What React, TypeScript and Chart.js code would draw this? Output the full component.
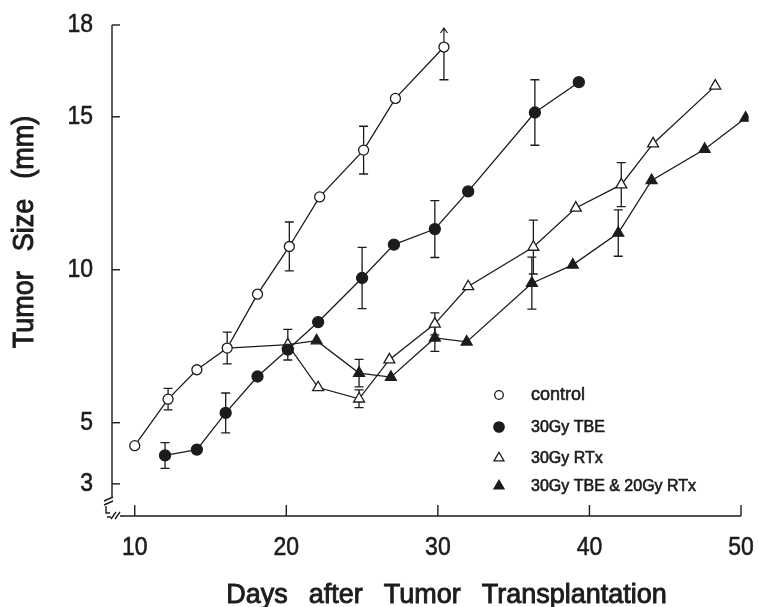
import React, { useEffect, useRef } from 'react';
import { Chart, registerables } from 'chart.js';

Chart.register(...registerables);

// ---------- data ----------
const xTicks = [10, 20, 30, 40, 50];
const yTicks = [3, 5, 10, 15, 18];

const controlDays = [10, 12.2, 14.1, 16.1, 18.1, 20.2, 22.2, 25.1, 27.2, 30.4];
const controlSize = [4.25, 5.77, 6.73, 7.44, 9.2, 10.76, 12.38, 13.91, 15.6, 17.28];
const controlErr = [0, 0.35, 0, 0.52, 0, 0.8, 0, 0.78, 0, 1.07];

const tbeDays = [12.0, 14.1, 16.0, 18.1, 20.1, 22.1, 25.0, 27.1, 29.8, 32.0, 36.4, 39.3];
const tbeSize = [3.93, 4.12, 5.32, 6.51, 7.39, 8.29, 9.73, 10.82, 11.33, 12.56, 15.14, 16.13];
const tbeErr = [0.42, 0, 0.65, 0, 0, 0, 1.0, 0, 0.93, 0, 1.07, 0];

const rtxDays = [16.1, 20.1, 22.1, 24.8, 26.8, 29.8, 32.0, 36.3, 39.1, 42.1, 44.2, 48.3];
const rtxSize = [7.44, 7.55, 6.15, 5.78, 7.06, 8.23, 9.45, 10.74, 12.02, 12.78, 14.12, 16.01];
const rtxErr = [0, 0.5, 0, 0.29, 0, 0.36, 0, 0.88, 0, 0.72, 0, 0];

const comboDays = [20.1, 22.0, 24.8, 26.9, 29.8, 31.9, 36.2, 38.9, 41.9, 44.1, 47.6, 50.3];
const comboSize = [7.55, 7.68, 6.62, 6.49, 7.77, 7.64, 9.56, 10.16, 11.2, 12.92, 13.94, 14.96];
const comboErr = [0, 0, 0.45, 0, 0.44, 0, 0.85, 0, 0.76, 0, 0, 0];

const seriesLabels = ['control', '30Gy TBE', '30Gy RTx', '30Gy TBE & 20Gy RTx'];
const xTitleWords = ['Days', 'after', 'Tumor', 'Transplantation'];
const yTitleWords = ['Tumor', 'Size', '(mm)'];

// ---------- style ----------
const INK = '#1c1c1c';
const FONT = '"Liberation Sans", Arial, sans-serif';

type Spec = {
  label: string;
  days: number[];
  vals: number[];
  err: number[];
  style: 'circle' | 'triangle';
  filled: boolean;
  radius: number;
  hideFirst: boolean;
};

const specs: Spec[] = [
  { label: seriesLabels[0], days: controlDays, vals: controlSize, err: controlErr, style: 'circle', filled: false, radius: 5, hideFirst: false },
  { label: seriesLabels[1], days: tbeDays, vals: tbeSize, err: tbeErr, style: 'circle', filled: true, radius: 5.5, hideFirst: false },
  { label: seriesLabels[2], days: rtxDays, vals: rtxSize, err: rtxErr, style: 'triangle', filled: false, radius: 6.3, hideFirst: true },
  { label: seriesLabels[3], days: comboDays, vals: comboSize, err: comboErr, style: 'triangle', filled: true, radius: 6.3, hideFirst: true },
];

function drawMarker(ctx: CanvasRenderingContext2D, style: string, filled: boolean, x: number, y: number, r: number) {
  ctx.beginPath();
  if (style === 'circle') {
    ctx.arc(x, y, r, 0, Math.PI * 2);
  } else {
    for (let k = 0; k < 3; k++) {
      const a = (k * 2 * Math.PI) / 3;
      const px = x + Math.sin(a) * r;
      const py = y - Math.cos(a) * r;
      if (k === 0) ctx.moveTo(px, py);
      else ctx.lineTo(px, py);
    }
    ctx.closePath();
  }
  ctx.fillStyle = filled ? INK : '#ffffff';
  ctx.fill();
  ctx.lineWidth = 1.3;
  ctx.strokeStyle = INK;
  ctx.stroke();
}

function drawText(
  ctx: CanvasRenderingContext2D,
  text: string,
  x: number,
  y: number,
  font: string,
  align: CanvasTextAlign,
  baseline: CanvasTextBaseline,
  sy: number,
  stroke: number
) {
  ctx.save();
  ctx.translate(x, y);
  ctx.scale(1, sy);
  ctx.font = font;
  ctx.textAlign = align;
  ctx.textBaseline = baseline;
  ctx.fillStyle = INK;
  ctx.fillText(text, 0, 0);
  if (stroke > 0) {
    ctx.lineWidth = stroke;
    ctx.strokeStyle = INK;
    ctx.strokeText(text, 0, 0);
  }
  ctx.restore();
}

const decorPlugin = {
  id: 'decor',
  beforeDatasetsDraw(chart: any) {
    const ctx: CanvasRenderingContext2D = chart.ctx;
    const xs = chart.scales.x;
    const ys = chart.scales.y;
    ctx.save();
    ctx.strokeStyle = INK;
    ctx.lineWidth = 1.3;
    specs.forEach((s, si) => {
      s.days.forEach((d, i) => {
        const e = s.err[i];
        if (!e) return;
        const px = xs.getPixelForValue(d);
        const isArrow = si === 0 && i === s.days.length - 1;
        const top = ys.getPixelForValue(isArrow ? s.vals[i] : s.vals[i] + e);
        const bot = ys.getPixelForValue(s.vals[i] - e);
        ctx.beginPath();
        ctx.moveTo(px, top);
        ctx.lineTo(px, bot);
        if (!isArrow) {
          ctx.moveTo(px - 4.5, top);
          ctx.lineTo(px + 4.5, top);
        }
        ctx.moveTo(px - 4.5, bot);
        ctx.lineTo(px + 4.5, bot);
        ctx.stroke();
      });
    });
    ctx.restore();
  },
  afterDraw(chart: any) {
    const ctx: CanvasRenderingContext2D = chart.ctx;
    const xs = chart.scales.x;
    const ys = chart.scales.y;
    const L = chart.chartArea.left;
    const B = chart.chartArea.bottom;
    ctx.save();
    ctx.strokeStyle = INK;
    ctx.lineWidth = 1.4;
    ctx.lineCap = 'butt';

    // y axis with break
    const yTop = ys.getPixelForValue(yTicks[yTicks.length - 1]);
    ctx.beginPath();
    ctx.moveTo(L, yTop);
    ctx.lineTo(L, B - 19);
    // break slashes on y
    ctx.moveTo(L - 8, B - 15);
    ctx.lineTo(L + 1, B - 19);
    ctx.moveTo(L - 8, B - 11);
    ctx.lineTo(L + 1, B - 15);
    // small foot below break
    ctx.moveTo(L - 6, B - 10);
    ctx.lineTo(L - 6, B - 3);
    ctx.lineTo(L - 2, B - 3);
    // x axis with break
    ctx.moveTo(L - 5, B + 1);
    ctx.lineTo(L - 1, B + 1);
    ctx.moveTo(L - 1, B + 3);
    ctx.lineTo(L + 4, B - 4);
    ctx.moveTo(L + 3, B + 3);
    ctx.lineTo(L + 8, B - 4);
    ctx.moveTo(L + 8, B);
    ctx.lineTo(xs.getPixelForValue(xTicks[xTicks.length - 1]), B);
    ctx.stroke();

    // y ticks
    yTicks.forEach((v) => {
      const py = ys.getPixelForValue(v);
      ctx.beginPath();
      ctx.moveTo(L, py);
      ctx.lineTo(L + 8, py);
      ctx.stroke();
      drawText(ctx, String(v), 93, py, `23px ${FONT}`, 'right', 'middle', 1.12, 0.5);
    });
    // x ticks
    xTicks.forEach((v) => {
      const px = xs.getPixelForValue(v);
      ctx.beginPath();
      ctx.moveTo(px, B);
      ctx.lineTo(px, B - 11);
      ctx.stroke();
      drawText(ctx, String(v), px, B + 32, `23px ${FONT}`, 'center', 'middle', 1.12, 0.5);
    });

    // arrow on last control point
    {
      const i = controlDays.length - 1;
      const px = xs.getPixelForValue(controlDays[i]);
      const py = ys.getPixelForValue(controlSize[i]) - 5;
      const tip = py - 14;
      ctx.beginPath();
      ctx.lineWidth = 1.2;
      ctx.moveTo(px, py);
      ctx.lineTo(px, tip);
      ctx.moveTo(px - 3.5, tip + 5);
      ctx.lineTo(px, tip);
      ctx.lineTo(px + 3.5, tip + 5);
      ctx.stroke();
    }

    // x title
    {
      const font = `27px ${FONT}`;
      ctx.font = font;
      const gap = 21;
      const widths = xTitleWords.map((w) => ctx.measureText(w).width);
      const total = widths.reduce((a, b) => a + b, 0) + gap * (xTitleWords.length - 1);
      let cx = 446.5 - total / 2;
      xTitleWords.forEach((w, k) => {
        drawText(ctx, w, cx, 603, font, 'left', 'alphabetic', 1.04, 0.9);
        cx += widths[k] + gap;
      });
    }
    // y title
    {
      const font = `27px ${FONT}`;
      ctx.save();
      ctx.translate(33, 232);
      ctx.rotate(-Math.PI / 2);
      ctx.font = font;
      const gap = 20;
      const widths = yTitleWords.map((w) => ctx.measureText(w).width);
      const total = widths.reduce((a, b) => a + b, 0) + gap * (yTitleWords.length - 1);
      let cx = -total / 2;
      yTitleWords.forEach((w, k) => {
        drawText(ctx, w, cx, 0, font, 'left', 'alphabetic', 1.12, 0.9);
        cx += widths[k] + gap;
      });
      ctx.restore();
    }

    // legend
    const rowsY = [395, 427, 458, 486];
    const legendR = [4.3, 5.2, 5.8, 5.8];
    specs.forEach((s, k) => {
      drawMarker(ctx, s.style, s.filled, 499, rowsY[k], legendR[k]);
      const font = k === 0 ? `18px ${FONT}` : `16px ${FONT}`;
      drawText(ctx, s.label, 531, rowsY[k], font, 'left', 'middle', 1.05, 0.6);
    });

    ctx.restore();
  },
};

export default function App() {
  const ref = useRef<HTMLCanvasElement | null>(null);
  useEffect(() => {
    if (!ref.current) return;
    const datasets = specs.map((s) => ({
      label: s.label,
      data: s.days.map((d, i) => ({ x: d, y: s.vals[i] })),
      borderColor: INK,
      borderWidth: 1.3,
      pointStyle: s.style,
      pointRadius: (c: any) => (s.hideFirst && c.dataIndex === 0 ? 0 : s.radius),
      pointBackgroundColor: s.filled ? INK : '#ffffff',
      pointBorderColor: INK,
      pointBorderWidth: 1.3,
      tension: 0,
      fill: false,
    }));
    const chart = new Chart(ref.current, {
      type: 'line',
      data: { datasets },
      options: {
        animation: false,
        responsive: false,
        devicePixelRatio: 1,
        layout: { padding: { left: 112, right: 9.4, top: 25, bottom: 91 } },
        scales: {
          x: { type: 'linear', min: 8.5, max: 50.5, display: false },
          y: { type: 'linear', min: 1.95, max: 18, display: false },
        },
        plugins: { legend: { display: false }, tooltip: { enabled: false } },
      },
      plugins: [decorPlugin],
    } as any);
    return () => chart.destroy();
  }, []);
  return (
    <div style={{ position: 'absolute', left: 0, top: 0, width: 758, height: 607, background: '#fff' }}>
      <canvas ref={ref} width={758} height={607} style={{ display: 'block' }} />
    </div>
  );
}
